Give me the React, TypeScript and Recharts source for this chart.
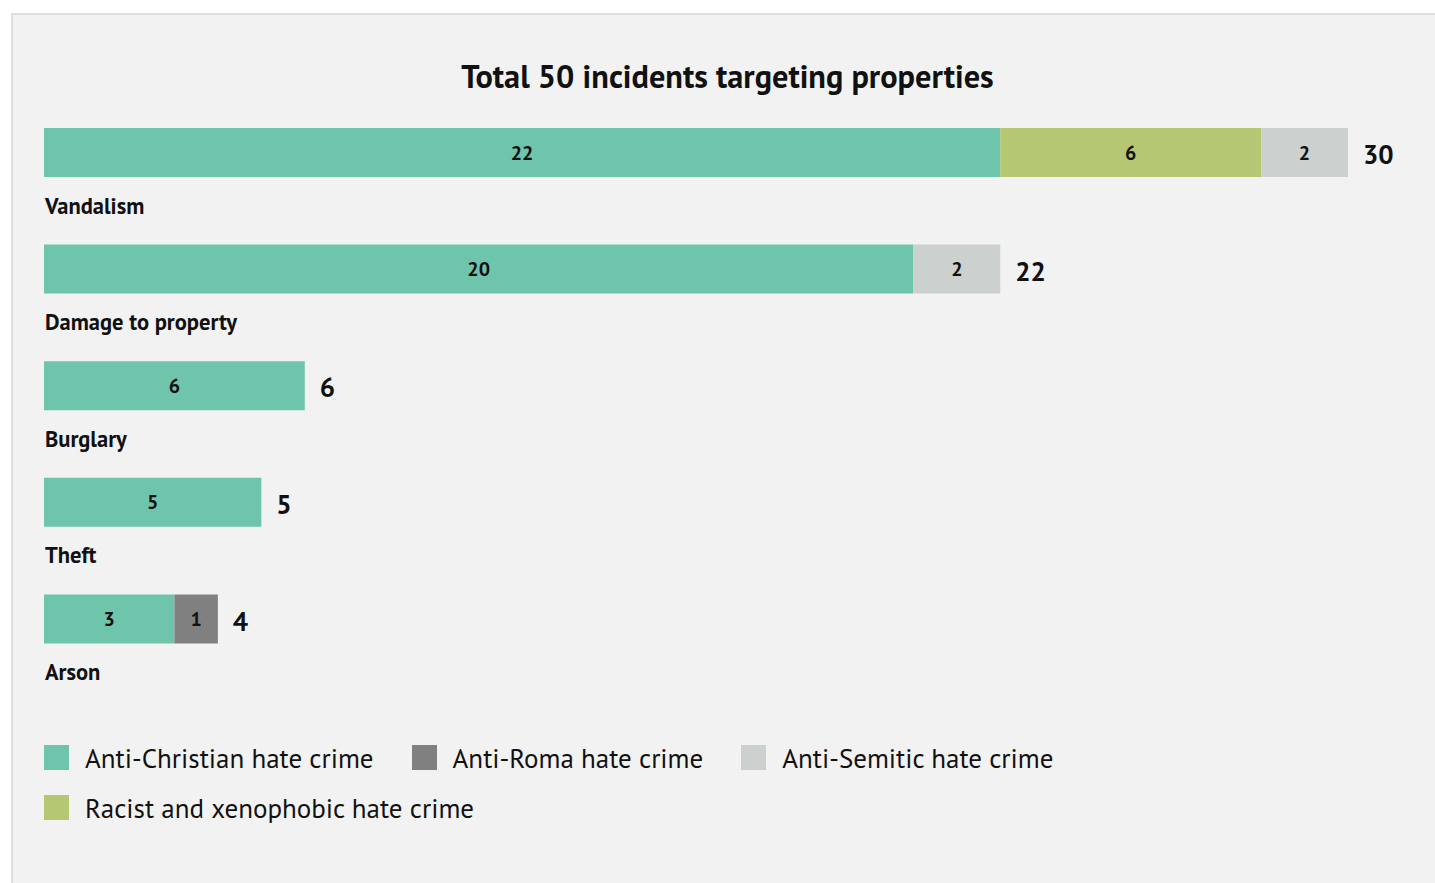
import React from "react";
import { BarChart, Bar, XAxis, YAxis, LabelList } from "recharts";

const categories = ["Vandalism", "Damage to property", "Burglary", "Theft", "Arson"];
const antiChristian = [22, 20, 6, 5, 3];
const racist = [6, 0, 0, 0, 0];
const antiSemitic = [2, 2, 0, 0, 0];
const antiRoma = [0, 0, 0, 0, 1];

const FONT = '"Liberation Sans Narrow", "PT Sans", "Noto Sans", sans-serif';

const SERIES = [
  { key: "christian", name: "Anti-Christian hate crime", color: "#6fc4ac", values: antiChristian },
  { key: "racist", name: "Racist and xenophobic hate crime", color: "#b5c772", values: racist },
  { key: "semitic", name: "Anti-Semitic hate crime", color: "#ccd0ce", values: antiSemitic },
  { key: "roma", name: "Anti-Roma hate crime", color: "#808080", values: antiRoma },
];

const LEGEND_ORDER = ["christian", "roma", "semitic", "racist"];

const data = categories.map((name, i) => {
  const row: any = { name };
  SERIES.forEach((s) => (row[s.key] = s.values[i]));
  row.total = SERIES.reduce((sum, s) => sum + s.values[i], 0);
  return row;
});

// category name under each bar
const CategoryLabel = (props: any) => {
  const { y, height, index } = props;
  return (
    <text x={45} y={Number(y) + Number(height) + 31} dominantBaseline="middle" fontSize={22.5} fontWeight={700} fill="#111" fontFamily={FONT}>
      {data[index].name}
    </text>
  );
};

// value inside a segment, skipped when empty
const SegmentLabel = (props: any) => {
  const { x, y, width, height, value } = props;
  if (!value) return null;
  return (
    <text
      x={Number(x) + Number(width) / 2}
      y={Number(y) + Number(height) / 2 + 2}
      textAnchor="middle"
      dominantBaseline="middle"
      fontSize={20}
      fontWeight={700}
      fill="#111"
      fontFamily={FONT}
    >
      {value}
    </text>
  );
};

// total after the end of the stack, scaled from the first segment's width
const TotalLabel = (props: any) => {
  const { x, y, width, height, index } = props;
  const row = data[index];
  const perUnit = Number(width) / row.christian;
  return (
    <text
      x={Number(x) + row.total * perUnit + 15}
      y={Number(y) + Number(height) / 2 + 5}
      dominantBaseline="middle"
      fontSize={27}
      fontWeight={700}
      fill="#111"
      fontFamily={FONT}
    >
      {row.total}
    </text>
  );
};

export default function App() {
  return (
    <div style={{ position: "absolute", left: 0, top: 0, width: 1435, height: 883, background: "#fff", overflow: "hidden" }}>
      <div
        style={{
          position: "absolute",
          left: 11,
          top: 13,
          width: 1440,
          height: 900,
          background: "#f2f2f2",
          borderLeft: "2px solid #dedede",
          borderTop: "2px solid #dedede",
        }}
      />
      <div
        style={{
          position: "absolute",
          left: 0,
          width: 1455,
          top: 55,
          textAlign: "center",
          fontFamily: FONT,
          fontWeight: 700,
          fontSize: 32.3,
          color: "#111",
        }}
      >
        Total 50 incidents targeting properties
      </div>
      <div style={{ position: "absolute", left: 0, top: 0 }}>
        <BarChart
          width={1435}
          height={700}
          data={data}
          layout="vertical"
          margin={{ top: 94, right: 87, bottom: 23, left: 44 }}
          barSize={49}
        >
          <XAxis type="number" domain={[0, 30]} hide />
          <YAxis type="category" dataKey="name" hide />
          {SERIES.map((s, si) => (
            <Bar key={s.key} dataKey={s.key} name={s.name} stackId="a" fill={s.color} isAnimationActive={false}>
              <LabelList dataKey={s.key} content={<SegmentLabel />} />
              {si === 0 && <LabelList dataKey="name" content={<CategoryLabel />} />}
              {si === 0 && <LabelList dataKey="total" content={<TotalLabel />} />}
            </Bar>
          ))}
        </BarChart>
      </div>
      <div
        style={{
          position: "absolute",
          left: 44,
          top: 743,
          width: 1100,
          display: "flex",
          flexWrap: "wrap",
          rowGap: 21,
          fontFamily: FONT,
          fontSize: 27,
          color: "#111",
        }}
      >
        {LEGEND_ORDER.map((k) => {
          const s = SERIES.find((x) => x.key === k)!;
          return (
            <div key={k} style={{ display: "flex", alignItems: "center", marginRight: 38, height: 29 }}>
              <span style={{ width: 25, height: 25, background: s.color, marginRight: 16, display: "inline-block" }} />
              <span>{s.name}</span>
            </div>
          );
        })}
      </div>
    </div>
  );
}
